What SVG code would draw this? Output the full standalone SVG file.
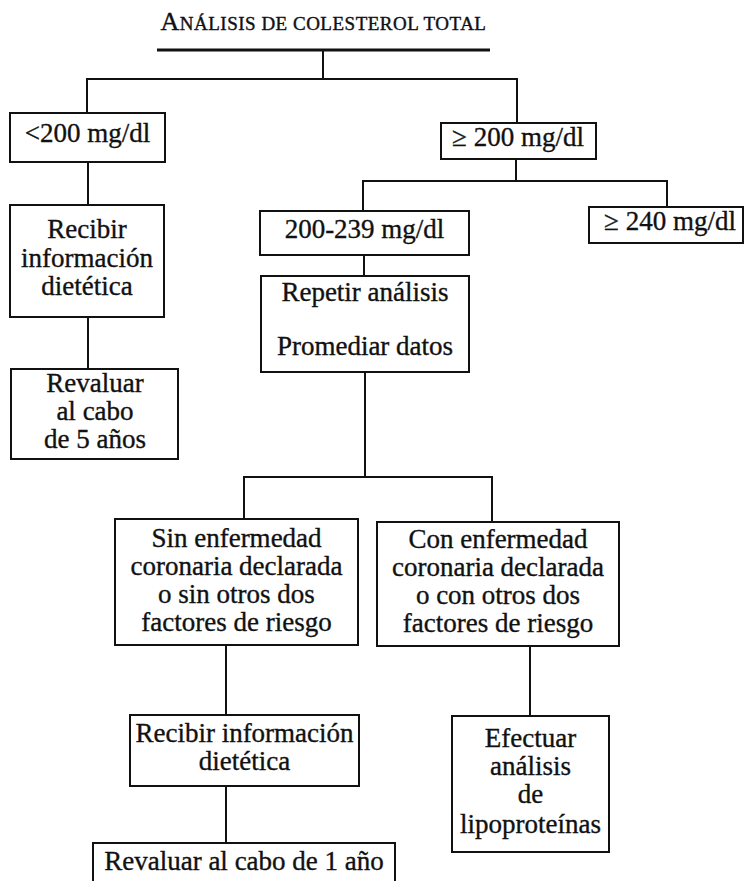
<svg xmlns="http://www.w3.org/2000/svg" width="748" height="881" viewBox="0 0 748 881">
<style>
  .box { fill: #fff; stroke: #111; stroke-width: 2; }
  .conn { fill: none; stroke: #111; stroke-width: 2; }
  text { font-family: "Liberation Serif", "Times New Roman", serif; font-size: 27px; fill: #111; stroke: #111; stroke-width: 0.35; text-anchor: middle; }
  .title { font-size: 19px; letter-spacing: 0.5px; stroke-width: 0.4; }
</style>
<rect width="748" height="881" fill="#fff"/>
<g id="title">
  <text class="title" x="323.5" y="30"><tspan font-size="26">A</tspan>NÁLISIS DE COLESTEROL TOTAL</text>
  <line x1="157" y1="50" x2="490" y2="50" stroke="#111" stroke-width="3"/>
</g>
<g id="connectors">
  <path class="conn" d="M323 50 V79 M87 113 V79 H517 V123"/>
  <path class="conn" d="M88 162 V205 M88 317 V369"/>
  <path class="conn" d="M516 159 V181 M363 211 V181 H667 V207"/>
  <path class="conn" d="M364 255 V276"/>
  <path class="conn" d="M365 372 V477 M244 519 V477 H492 V522"/>
  <path class="conn" d="M226 645 V715 M226 786 V843"/>
  <path class="conn" d="M530 646 V716"/>
</g>
<g id="n-lt200">
  <rect class="box" x="10" y="113" width="155" height="49"/>
  <text x="87.5" y="142">&lt;200 mg/dl</text>
</g>
<g id="n-ge200">
  <rect class="box" x="441" y="123" width="155" height="36"/>
  <text x="518" y="146">≥ 200 mg/dl</text>
</g>
<g id="n-recibir1">
  <rect class="box" x="10" y="205" width="154" height="112"/>
  <text x="87" y="238">Recibir</text>
  <text x="87" y="267">información</text>
  <text x="87" y="295">dietética</text>
</g>
<g id="n-revaluar5">
  <rect class="box" x="11" y="369" width="167" height="90"/>
  <text x="95" y="392">Revaluar</text>
  <text x="95" y="420">al cabo</text>
  <text x="95" y="448">de 5 años</text>
</g>
<g id="n-200-239">
  <rect class="box" x="260" y="211" width="209" height="44"/>
  <text x="364.5" y="238">200-239 mg/dl</text>
</g>
<g id="n-ge240">
  <rect class="box" x="589" y="207" width="154" height="36"/>
  <text x="670" y="230">≥ 240 mg/dl</text>
</g>
<g id="n-repetir">
  <rect class="box" x="261" y="276" width="208" height="96"/>
  <text x="365" y="301">Repetir análisis</text>
  <text x="365" y="355">Promediar datos</text>
</g>
<g id="n-sin">
  <rect class="box" x="115" y="519" width="243" height="126"/>
  <text x="236.5" y="547">Sin enfermedad</text>
  <text x="236.5" y="575">coronaria declarada</text>
  <text x="236.5" y="603">o sin otros dos</text>
  <text x="236.5" y="631">factores de riesgo</text>
</g>
<g id="n-con">
  <rect class="box" x="377" y="522" width="242" height="124"/>
  <text x="498" y="548">Con enfermedad</text>
  <text x="498" y="576">coronaria declarada</text>
  <text x="498" y="604">o con otros dos</text>
  <text x="498" y="632">factores de riesgo</text>
</g>
<g id="n-recibir2">
  <rect class="box" x="130" y="715" width="229" height="71"/>
  <text x="244.5" y="742">Recibir información</text>
  <text x="244.5" y="770">dietética</text>
</g>
<g id="n-efectuar">
  <rect class="box" x="452" y="716" width="157" height="136"/>
  <text x="530.5" y="747">Efectuar</text>
  <text x="530.5" y="775">análisis</text>
  <text x="530.5" y="803">de</text>
  <text x="530.5" y="833">lipoproteínas</text>
</g>
<g id="n-revaluar1">
  <rect class="box" x="93" y="843" width="302" height="50"/>
  <text x="244" y="870">Revaluar al cabo de 1 año</text>
</g>
</svg>
